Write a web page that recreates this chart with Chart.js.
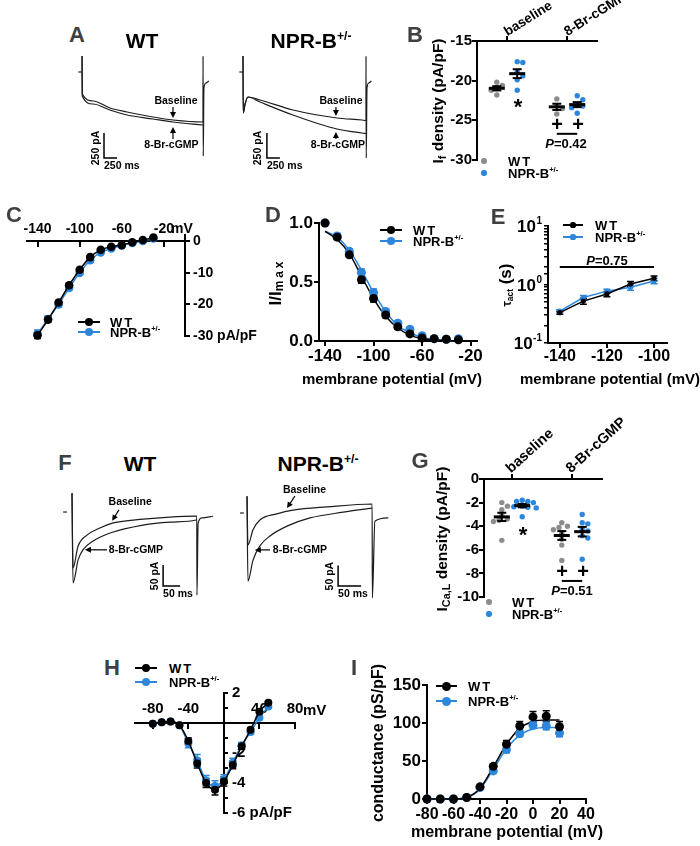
<!DOCTYPE html>
<html>
<head>
<meta charset="utf-8">
<title>NPR-B: If and ICa,L</title>
<script src="https://cdn.jsdelivr.net/npm/chart.js@4.4.1/dist/chart.umd.min.js"></script>
<style>
  body { margin: 0; background: #fff; }
  #fig { position: relative; width: 700px; height: 846px; overflow: hidden; background: #fff;
         font-family: "Liberation Sans", Arial, Helvetica, sans-serif; font-weight: bold; color: #000; }
  #upper { position: absolute; left: 0; top: -27px; width: 700px; height: 846px; }
  #fig canvas { position: absolute; }
  .tx { position: absolute; white-space: nowrap; line-height: 1; z-index: 2; }
  .c { transform: translate(-50%, -50%); }
  .lf { transform: translateY(-50%); }
  .v { transform: translate(-50%, -50%) rotate(-90deg); }
  .letter { font-size: 22px; color: #404040; }
  .title { font-size: 21px; }
  .lg { font-size: 13px; }
  .sp { letter-spacing: 2px; }
  sup { font-size: .58em; vertical-align: super; line-height: 0; }
  sub { font-size: .7em; vertical-align: -.25em; line-height: 0; }
  .sw { position: absolute; z-index: 2; }
</style>
</head>
<body>
<div id="fig"><div id="upper"></div></div>
<script>
// ---------------- data ----------------
// A: If traces, time (ms) / current (pA)
const aWtBaseT  = [0, 5, 212, 538, 865, 1365, 1750, 2327, 2328, 2332, 2345, 2385, 2440];
const aWtBaseI  = [160, -220, -290, -360, -400, -450, -480, -500, 160, -840, -160, -110, -90];
const aWtCgT    = [0, 5, 212, 538, 865, 1365, 1750, 2327];
const aWtCgI    = [160, -240, -320, -380, -430, -470, -500, -530];
const aNprBaseT = [0, 5, 40, 96, 327, 962, 1808, 2288, 2365, 2366, 2370, 2385, 2420, 2470];
const aNprBaseI = [160, -410, -320, -250, -280, -380, -460, -480, -485, 160, -860, -160, -110, -90];
const aNprCgT   = [0, 5, 40, 96, 327, 962, 1808, 2288, 2365];
const aNprCgI   = [160, -410, -320, -250, -300, -430, -570, -610, -615];
const aHoldT = [-70, -5], aHoldI = [0, 0];
const aBarMs = 250, aBarPa = 250;

// F: ICa,L traces, time (ms) / current (pA)
const fWtBaseT  = [0, 3, 18, 44, 82, 121, 209, 288, 365, 367, 367.5, 371, 382, 415];
const fWtBaseI  = [45, -133, -81, -55, -38, -26, -17, -12, -10, -10, -198, -26, -14, -10];
const fWtCgT    = [0, 3, 18, 32, 62, 112, 209, 288, 365, 367];
const fWtCgI    = [45, -169, -114, -90, -69, -50, -31, -24, -19, -18];
const fNprBaseT = [0, 2, 13, 28, 65, 100, 174, 272, 272.5, 278, 307];
const fNprBaseI = [41, -78, -41, -17, -2, 7, 15, 22, -207, -20, -12];
const fNprCgT   = [0, 2, 13, 28, 50, 87, 137, 209, 272];
const fNprCgI   = [41, -166, -115, -80, -56, -32, -12, 2, 12];
const fWtHoldT = [-26, -15], fNprHoldT = [-15, -7], fHoldI = [0, 0];
const fBarMs = 50, fBarPa = 50;

// B: If density (pA/pF)
const groups = ['baseline', '8-Br-cGMP'];
const bWtBase  = [-20.2, -20.6, -21.0, -21.2, -21.8];
const bNprBase = [-17.6, -17.7, -18.9, -19.4, -19.9, -21.2];
const bWtCg    = [-22.3, -23.2, -23.5, -24.2];
const bNprCg   = [-21.9, -22.4, -23.1, -23.2, -23.4, -24.1];
const bTicks = [-30, -25, -20, -15];

// G: ICa,L density (pA/pF)
const gWtBase  = [-2.0, -2.3, -2.6, -3.1, -3.4, -3.5, -3.6, -5.2];
const gNprBase = [-1.8, -1.9, -1.9, -2.0, -2.3, -2.35, -2.4, -2.45, -3.2];
const gWtCg    = [-3.7, -4.0, -4.1, -4.3, -4.6, -5.1, -5.6, -6.9];
const gNprCg   = [-3.0, -3.7, -3.8, -4.2, -4.4, -4.8, -5.0, -6.8];
const gTicks = [-10, -8, -6, -4, -2, 0];

// C: If I-V (pA/pF)
const cVolt = [-140, -130, -120, -110, -100, -90, -80, -70, -60, -50, -40, -30];
const cWT   = [-29.8, -24.8, -19.4, -13.9, -9.0, -5.0, -2.7, -1.7, -1.2, -0.3, 0.4, 1.2];
const cNPR  = [-29.3, -24.6, -20.0, -14.8, -10.0, -6.0, -3.5, -2.3, -1.3, -0.5, 0.1, 0.9];
const cErrWT  = [1.0, 0.8, 0.6, 0.5, 0.4, 0.3, 0.2, 0.2, 0.1, 0.1, 0.1, 0.1];
const cErrNPR = [1.2, 0.9, 0.7, 0.6, 0.5, 0.4, 0.3, 0.2, 0.1, 0.1, 0.1, 0.1];
const cXTicks = [-140, -100, -60, -20], cYTicks = [-30, -20, -10, 0];

// D: If activation, I/Imax
const dVolt = [-140, -130, -120, -110, -100, -90, -80, -70, -60, -50, -40, -30];
const dWT     = [1.0, 0.88, 0.73, 0.52, 0.36, 0.22, 0.12, 0.06, 0.025, 0.02, 0.015, 0.01];
const dNPR    = [1.0, 0.89, 0.76, 0.58, 0.41, 0.25, 0.15, 0.10, 0.045, 0.02, 0.015, 0.02];
const dFitWT  = [0.93, 0.86, 0.74, 0.55, 0.36, 0.21, 0.11, 0.05, 0.02, 0.01, 0.005, 0.0];
const dFitNPR = [0.93, 0.88, 0.77, 0.60, 0.41, 0.25, 0.13, 0.07, 0.03, 0.015, 0.005, 0.0];
const dErr = [0, 0.02, 0.02, 0.03, 0.03, 0.02, 0.02, 0.015, 0.01, 0.01, 0.01, 0.01];
const dXTicks = [-140, -100, -60, -20], dYTicks = [0, 0.5, 1];

// E: tau act (s)
const eVolt = [-140, -130, -120, -110, -100];
const eWT   = [0.33, 0.52, 0.69, 1.02, 1.28];
const eNPR  = [0.35, 0.60, 0.77, 0.90, 1.15];
const eErrWT  = [0.02, 0.06, 0.07, 0.10, 0.12];
const eErrNPR = [0.02, 0.05, 0.06, 0.10, 0.12];
const eXTicks = [-140, -120, -100], eDecades = [0.1, 1, 10], eExps = ['-1', '0', '1'];

// H: ICa,L I-V (pA/pF)
const hVolt = [-80, -70, -60, -50, -40, -30, -20, -10, 0, 10, 20, 30, 40, 50];
const hWT   = [-0.05, 0.05, 0.1, -0.15, -1.2, -2.7, -4.0, -4.45, -3.9, -2.8, -1.55, -0.45, 0.75, 1.35];
const hNPR  = [-0.05, 0.05, 0.1, -0.15, -1.35, -2.5, -3.85, -4.2, -3.75, -2.65, -1.5, -0.6, 0.35, 1.1];
const hErrWT  = [0.05, 0.05, 0.05, 0.1, 0.2, 0.3, 0.3, 0.35, 0.3, 0.25, 0.2, 0.1, 0.1, 0.1];
const hErrNPR = [0.05, 0.05, 0.05, 0.1, 0.3, 0.4, 0.35, 0.35, 0.3, 0.3, 0.2, 0.15, 0.1, 0.1];
const hXTicks = [-80, -40, 40, 80], hYLab = [2, -2, -4, -6];

// I: conductance (pS/pF)
const iVolt = [-80, -70, -60, -50, -40, -30, -20, -10, 0, 10, 20];
const iWT     = [0, 0, 0, 2, 16, 43, 72, 96, 108, 109, 95];
const iNPR    = [0, 0, 0, 2, 15, 37, 65, 86, 97, 96, 87];
const iFitWT  = [0, 0, 0, 2, 14, 42, 72, 93, 102, 104, 104];
const iFitNPR = [0, 0, 0, 2, 13, 39, 66, 84, 92, 94, 94];
const iErrWT  = [0, 0, 0, 1, 2, 3, 5, 6, 7, 7, 7];
const iErrNPR = [0, 0, 0, 1, 2, 3, 4, 4, 4, 5, 5];
const iXTicks = [-80, -60, -40, -20, 0, 20, 40], iYTicks = [0, 50, 100, 150];

// ---------------- setup ----------------
const FONT = '"Liberation Sans", Arial, Helvetica, sans-serif';
const BLUE = '#2b86dc', GRAY = '#8c8c8c', INK = '#000';
const fig = document.getElementById('fig');
let host = document.getElementById('upper');   // panels A-G sit in the upper layer

Chart.defaults.font.family = FONT;
Chart.defaults.font.weight = 'bold';
Chart.defaults.color = INK;
Chart.defaults.plugins.legend.display = false;
Chart.defaults.plugins.tooltip.enabled = false;
Chart.defaults.events = [];

// error bars from dataset.errs
Chart.register({
  id: 'errBars',
  beforeDatasetsDraw(chart) {
    const ctx = chart.ctx;
    chart.data.datasets.forEach((ds, i) => {
      if (!ds.errs) return;
      const meta = chart.getDatasetMeta(i), ys = chart.scales[meta.yAxisID];
      ctx.save();
      ctx.strokeStyle = ds.borderColor;
      ctx.lineWidth = 1.5;
      meta.data.forEach((pt, j) => {
        const e = ds.errs[j];
        if (!e) return;
        const v = ds.data[j].y;
        const a = ys.getPixelForValue(v + e), b = ys.getPixelForValue(v - e);
        ctx.beginPath();
        ctx.moveTo(pt.x, a); ctx.lineTo(pt.x, b);
        ctx.moveTo(pt.x - 3.5, a); ctx.lineTo(pt.x + 3.5, a);
        ctx.moveTo(pt.x - 3.5, b); ctx.lineTo(pt.x + 3.5, b);
        ctx.stroke();
      });
      ctx.restore();
    });
  }
});

// lines, arrows and text in data coordinates
function notesPlugin(items) {
  return {
    id: 'notes',
    afterDatasetsDraw(chart) {
      const ctx = chart.ctx;
      const X = v => chart.scales.x.getPixelForValue(v), Y = v => chart.scales.y.getPixelForValue(v);
      ctx.save();
      ctx.strokeStyle = INK; ctx.fillStyle = INK;
      items.forEach(it => {
        if (it.line) {
          ctx.lineWidth = it.w || 1.5;
          ctx.beginPath();
          it.line.forEach(([a, b], k) => k ? ctx.lineTo(X(a), Y(b)) : ctx.moveTo(X(a), Y(b)));
          ctx.stroke();
        } else if (it.arrow) {
          const [[a1, b1], [a2, b2]] = it.arrow;
          const x1 = X(a1), y1 = Y(b1), x2 = X(a2), y2 = Y(b2);
          const ang = Math.atan2(y2 - y1, x2 - x1), c = Math.cos(ang), s = Math.sin(ang);
          ctx.lineWidth = 1.2;
          ctx.beginPath(); ctx.moveTo(x1, y1); ctx.lineTo(x2 - 4 * c, y2 - 4 * s); ctx.stroke();
          ctx.beginPath(); ctx.moveTo(x2, y2);
          ctx.lineTo(x2 - 6 * c + 3 * s, y2 - 6 * s - 3 * c);
          ctx.lineTo(x2 - 6 * c - 3 * s, y2 - 6 * s + 3 * c);
          ctx.closePath(); ctx.fill();
        } else if (it.text) {
          ctx.font = `bold ${it.size || 10.5}px ${FONT}`;
          ctx.textAlign = it.align || 'center';
          ctx.textBaseline = 'middle';
          ctx.save();
          ctx.translate(X(it.at[0]), Y(it.at[1]));
          if (it.rot) ctx.rotate(it.rot);
          ctx.fillText(it.text, 0, 0);
          ctx.restore();
        }
      });
      ctx.restore();
    }
  };
}

// mean +/- SEM for dot plots
function meanPlugin(groupsList) {
  return {
    id: 'meanSem',
    afterDatasetsDraw(chart) {
      const ctx = chart.ctx, xs = chart.scales.x, ys = chart.scales.y;
      const seg = (a, b, c, d) => { ctx.beginPath(); ctx.moveTo(a, b); ctx.lineTo(c, d); ctx.stroke(); };
      ctx.save(); ctx.strokeStyle = INK;
      groupsList.forEach(g => {
        const n = g.vals.length, m = g.vals.reduce((a, b) => a + b, 0) / n;
        const sd = Math.sqrt(g.vals.reduce((a, b) => a + (b - m) ** 2, 0) / (n - 1));
        const se = sd / Math.sqrt(n);
        const px = xs.getPixelForValue(g.x), pm = ys.getPixelForValue(m);
        const p1 = ys.getPixelForValue(m + se), p2 = ys.getPixelForValue(m - se);
        ctx.lineWidth = 3; seg(px - 8, pm, px + 8, pm);
        ctx.lineWidth = 2; seg(px, p1, px, p2);
        seg(px - 4.5, p1, px + 4.5, p1); seg(px - 4.5, p2, px + 4.5, p2);
      });
      ctx.restore();
    }
  };
}

// tick labels placed beside a crossing axis
function sideLabels(values, labels, size, dx) {
  return {
    id: 'sideLabels',
    afterDraw(chart) {
      const ctx = chart.ctx, ys = chart.scales.y, x0 = chart.scales.x.getPixelForValue(0) + dx;
      ctx.save();
      ctx.font = `bold ${size}px ${FONT}`;
      ctx.fillStyle = INK; ctx.textAlign = 'left'; ctx.textBaseline = 'middle';
      values.forEach((v, i) => ctx.fillText(labels[i], x0, ys.getPixelForValue(v)));
      ctx.restore();
    }
  };
}

// 10^n labels for log axis
function powLabels(values, exps, size, supSize, gap) {
  return {
    id: 'powLabels',
    afterDraw(chart) {
      const ctx = chart.ctx, s = chart.scales.y, right = s.right - gap;
      ctx.save(); ctx.fillStyle = INK; ctx.textBaseline = 'alphabetic';
      values.forEach((v, i) => {
        const y = s.getPixelForValue(v);
        ctx.font = `bold ${supSize}px ${FONT}`;
        const ws = ctx.measureText(exps[i]).width;
        ctx.textAlign = 'left';
        ctx.fillText(exps[i], right - ws, y - 2);
        ctx.font = `bold ${size}px ${FONT}`;
        ctx.textAlign = 'right';
        ctx.fillText('10', right - ws - 0.5, y + size * 0.36);
      });
      ctx.restore();
    }
  };
}

function ax(o) {
  return {
    type: o.type || 'linear',
    position: o.position,
    min: o.min, max: o.max,
    border: { display: true, color: INK, width: 2 },
    grid: { drawOnChartArea: false, drawTicks: true, tickLength: o.tickLen ?? 5, color: INK, lineWidth: o.tickW || 2 },
    ticks: {
      display: o.showLabels !== false,
      color: INK, font: { size: o.size || 15, weight: 'bold' },
      padding: o.pad ?? 1, autoSkip: false, labelOffset: o.lo || 0,
      minRotation: o.rot || 0, maxRotation: o.rot || 0,
      callback: o.fmt || (v => v)
    },
    afterBuildTicks: o.values ? s => { s.ticks = o.values.map(v => ({ value: v })); } : undefined,
    afterFit: s => {
      if (o.w != null) s.width = o.w;
      if (o.h != null) s.height = o.h;
      s.paddingLeft = s.paddingRight = s.paddingTop = s.paddingBottom = 0;
    }
  };
}

function mkChart(box, padding, cfg, plugins) {
  const [x, y, w, h] = box;
  const cv = document.createElement('canvas');
  cv.width = w; cv.height = h;
  cv.style.left = x + 'px'; cv.style.top = y + 'px';
  cv.style.width = w + 'px'; cv.style.height = h + 'px';
  host.appendChild(cv);
  cfg.options = Object.assign({ responsive: false, animation: false, layout: { padding } }, cfg.options);
  cfg.plugins = plugins || [];
  return new Chart(cv, cfg);
}

function ser(xs, ys, color, r, errs, extra) {
  return Object.assign({
    data: xs.map((x, i) => ({ x, y: ys[i] })),
    borderColor: color, backgroundColor: color, borderWidth: 1.5,
    pointRadius: r, pointBorderWidth: 0, pointBackgroundColor: color,
    cubicInterpolationMode: 'monotone', clip: false, errs
  }, extra || {});
}

function trace(T, I) {
  return {
    data: T.map((t, i) => ({ x: t, y: I[i] })),
    borderColor: '#1c1c1c', borderWidth: 1.2, pointRadius: 0,
    cubicInterpolationMode: 'monotone', clip: false
  };
}

// simple beeswarm: pxX / pxY are pixels per data unit, diam the dot size
function swarm(vals, cx, pxX, pxY, diam) {
  const placed = [], out = [];
  vals.map((v, i) => i).sort((a, b) => vals[b] - vals[a]).forEach(i => {
    const y = vals[i] * pxY;
    for (let k = 0; k < 40; k++) {
      const off = (k % 2 ? 1 : -1) * Math.ceil(k / 2) * diam * 0.5;
      if (placed.every(p => (p.x - off) ** 2 + (p.y - y) ** 2 >= diam * diam * 0.9)) {
        placed.push({ x: off, y });
        out[i] = { x: cx + off / pxX, y: vals[i] };
        break;
      }
    }
  });
  return out;
}

function dots(vals, cx, color, pxY) {
  return { data: swarm(vals, cx, 60, pxY, 5.6), pointRadius: 2.7, pointBorderWidth: 0,
           backgroundColor: color, pointBackgroundColor: color, showLine: false, clip: false };
}

function traceChart(box, xr, yr, sets, items) {
  return mkChart(box, 0, {
    type: 'line',
    data: { datasets: sets },
    options: { scales: {
      x: { type: 'linear', display: false, min: xr[0], max: xr[1] },
      y: { display: false, min: yr[0], max: yr[1] } } }
  }, [notesPlugin(items)]);
}

// ---------------- panel A ----------------
const aNotes = (tBar, tArrow, tBase, yBaseTip, tCg, yCgTip) => [
  { text: 'Baseline', at: [tBase, -290] },
  { arrow: [[tArrow, -350], [tArrow, yBaseTip]] },
  { text: '8-Br-cGMP', at: [tCg, -730] },
  { arrow: [[tArrow, -670], [tArrow, yCgTip]] },
  { line: [[tBar, -860 + aBarPa], [tBar, -860], [tBar + aBarMs, -860]] },
  { text: aBarPa + ' pA', at: [tBar - 160, -760], rot: -Math.PI / 2 },
  { text: aBarMs + ' ms', at: [tBar, -945], align: 'left' }
];
traceChart([62, 75, 153, 125], [-385, 2558], [-1010, 240],
  [trace(aWtBaseT, aWtBaseI), trace(aWtCgT, aWtCgI), trace(aHoldT, aHoldI)],
  aNotes(423, 1750, 1808, -460, 1721, -550));
traceChart([225, 75, 155, 125], [-346, 2635], [-1010, 240],
  [trace(aNprBaseT, aNprBaseI), trace(aNprCgT, aNprCgI), trace(aHoldT, aHoldI)],
  aNotes(460, 1788, 1885, -440, 1827, -600));

// ---------------- panel F ----------------
traceChart([55, 505, 165, 125], [-50, 435.3], [-216.6, 81],
  [trace(fWtBaseT, fWtBaseI), trace(fWtCgT, fWtCgI), trace(fWtHoldT, fHoldI)],
  [ { text: 'Baseline', at: [171, 24] },
    { arrow: [[138, 5], [118, -21]] },
    { text: '8-Br-cGMP', at: [188, -90] },
    { arrow: [[103, -90], [38, -90]] },
    { line: [[268, -176 + fBarPa], [268, -176], [268 + fBarMs, -176]] },
    { text: fBarPa + ' pA', at: [244, -152], rot: -Math.PI / 2 },
    { text: fBarMs + ' ms', at: [268, -195], align: 'left' } ]);
traceChart([230, 505, 165, 125], [-37, 321.7], [-219.5, 85.4],
  [trace(fNprBaseT, fNprBaseI), trace(fNprCgT, fNprCgI), trace(fNprHoldT, fHoldI)],
  [ { text: 'Baseline', at: [125, 56] },
    { arrow: [[104, 41], [87, 12]] },
    { text: '8-Br-cGMP', at: [115, -90] },
    { arrow: [[50, -90], [17, -90]] },
    { line: [[198, -178 + fBarPa], [198, -178], [198 + fBarMs, -178]] },
    { text: fBarPa + ' pA', at: [180, -154], rot: -Math.PI / 2 },
    { text: fBarMs + ' ms', at: [198, -197], align: 'left' } ]);

// ---------------- panel B ----------------
mkChart([400, 0, 240, 215], { top: 0, right: 43, bottom: 28, left: 0 }, {
  type: 'scatter',
  data: { datasets: [
    dots(bNprBase, 1.17, BLUE, 7.93), dots(bWtBase, 0.83, GRAY, 7.93),
    dots(bNprCg, 2.17, BLUE, 7.93), dots(bWtCg, 1.83, GRAY, 7.93)] },
  options: { scales: {
    x: ax({ position: 'top', min: 0.5, max: 2.5, values: [1, 2], fmt: v => groups[v - 1], rot: 32, size: 13.5, h: 68, pad: -4, lo: 7 }),
    y: ax({ min: -30, max: -15, values: bTicks, w: 77, pad: 0 }) } }
}, [meanPlugin([{ x: 0.83, vals: bWtBase }, { x: 1.17, vals: bNprBase }, { x: 1.83, vals: bWtCg }, { x: 2.17, vals: bNprCg }]),
    notesPlugin([{ line: [[1.83, -26.7], [2.17, -26.7]], w: 2 }])]);

// ---------------- panel G ----------------
mkChart([400, 430, 240, 220], { top: 0, right: 38, bottom: 26, left: 0 }, {
  type: 'scatter',
  data: { datasets: [
    dots(gNprBase, 1.17, BLUE, 11.8), dots(gWtBase, 0.83, GRAY, 11.8),
    dots(gNprCg, 2.17, BLUE, 11.8), dots(gWtCg, 1.83, GRAY, 11.8)] },
  options: { scales: {
    x: ax({ position: 'top', min: 0.533, max: 2.5, values: [1, 2], fmt: v => groups[v - 1], rot: 42, size: 14.5, h: 76, pad: -3, lo: 8 }),
    y: ax({ min: -10, max: 0, values: gTicks, w: 84, pad: 0 }) } }
}, [meanPlugin([{ x: 0.83, vals: gWtBase }, { x: 1.17, vals: gNprBase }, { x: 1.83, vals: gWtCg }, { x: 2.17, vals: gNprCg }]),
    notesPlugin([{ line: [[1.83, -8.64], [2.17, -8.64]], w: 2 }])]);

// ---------------- panel C ----------------
mkChart([0, 230, 260, 150], { left: 27, top: 32, bottom: 17, right: 0 }, {
  type: 'line',
  data: { datasets: [ser(cVolt, cWT, INK, 4.3, cErrWT), ser(cVolt, cNPR, BLUE, 4.3, cErrNPR)] },
  options: { scales: {
    x: ax({ position: { y: 0 }, min: -150, max: 0, values: cXTicks, size: 14, pad: -26 }),
    y: ax({ position: 'right', min: -30, max: 2, values: cYTicks, w: 75, size: 14, pad: 3,
            fmt: v => v === -30 ? '-30 pA/pF' : v }) } }
});

// ---------------- panel D ----------------
mkChart([240, 225, 250, 190], { top: 25, right: 13.4, left: 0, bottom: 0 }, {
  type: 'line',
  data: { datasets: [
    ser(dVolt, dWT, INK, 4.5, dErr, { showLine: false }),
    ser(dVolt, dNPR, BLUE, 4.5, dErr, { showLine: false }),
    ser(dVolt, dFitWT, INK, 0, null),
    ser(dVolt, dFitNPR, BLUE, 0, null)] },
  options: { scales: {
    x: ax({ min: -145, max: -15, values: dXTicks, size: 17, h: 47, pad: 0 }),
    y: ax({ min: 0, max: 1, values: dYTicks, w: 79, size: 17, pad: 1, fmt: v => v.toFixed(1) }) } }
});

// ---------------- panel E ----------------
mkChart([490, 225, 210, 190], { top: 28, right: 33, left: 0, bottom: 0 }, {
  type: 'line',
  data: { datasets: [
    ser(eVolt, eWT, INK, 2.6, eErrWT, { cubicInterpolationMode: 'default', tension: 0 }),
    ser(eVolt, eNPR, BLUE, 2.6, eErrNPR, { cubicInterpolationMode: 'default', tension: 0 })] },
  options: { scales: {
    x: ax({ min: -145, max: -94.5, values: eXTicks, size: 16, h: 45, pad: -1 }),
    y: ax({ type: 'logarithmic', min: 0.1, max: 10, showLabels: false, w: 58, tickLen: 4, tickW: 1.5 }) } }
}, [powLabels(eDecades, eExps, 17, 10, 6), notesPlugin([{ line: [[-140, 2.0], [-100, 2.0]], w: 2 }])]);

// ---------------- text helpers ----------------
function place(cls, x, y, html, css) {
  const d = document.createElement('div');
  d.className = 'tx ' + cls;
  d.style.left = x + 'px'; d.style.top = y + 'px';
  if (css) d.style.cssText += css;
  d.innerHTML = html;
  host.appendChild(d);
  return d;
}
const NPR = 'NPR-B<sup>+/-</sup>';

function swatch(cx, cy, color, len, r) {
  if (len) {
    const l = document.createElement('div');
    l.className = 'sw';
    l.style.cssText += `left:${cx - len / 2}px;top:${cy - 0.75}px;width:${len}px;height:1.5px;background:${color}`;
    host.appendChild(l);
  }
  const d = document.createElement('div');
  d.className = 'sw';
  d.style.cssText += `left:${cx - r}px;top:${cy - r}px;width:${2 * r}px;height:${2 * r}px;border-radius:50%;background:${color}`;
  host.appendChild(d);
}
function legend(cx, tx, y1, y2, len, r, c1) {
  swatch(cx, y1, c1, len, r); place('lf lg sp', tx, y1, 'WT');
  swatch(cx, y2, BLUE, len, r); place('lf lg', tx, y2, NPR);
}
const star = (x, y) => place('c', x, y + 5, '*', 'font-size:22px');
const plus = (x, y) => place('c', x, y, '+', 'font-size:20px');

// upper layer text (panels A-G)
[['A', 77, 62], ['B', 415, 62], ['C', 14, 242], ['D', 273, 242], ['E', 498, 244],
 ['F', 65, 490], ['G', 420, 488]].forEach(([t, x, y]) => place('c letter', x, y, t));
place('c title', 142, 67, 'WT');
place('c title', 311, 67, NPR);
place('c title', 140, 490, 'WT');
place('c title', 318, 490, NPR);

place('v', 438, 128, 'I<sub>f</sub> density (pA/pF)', 'font-size:15.5px');
place('v', 442, 566, 'I<sub>Ca,L</sub> density (pA/pF)', 'font-size:15.5px');
place('v', 275, 309, 'I/I<sub style="letter-spacing:3px">max</sub>', 'font-size:17px');
place('v', 505, 312, '<span style="font-size:12px">τ<sub>act</sub></span> (s)', 'font-size:17px');
place('c', 392, 405, 'membrane potential (mV)', 'font-size:15px');
place('c', 610, 405, 'membrane potential (mV)', 'font-size:15px');
place('lf', 171, 255, 'mV', 'font-size:14px');

star(518, 129); plus(557, 151); plus(578, 151);
place('c', 566, 170, '<i>P</i>=0.42', 'font-size:13px');
star(523, 557); plus(562, 598); plus(583, 598);
place('c', 572, 617, '<i>P</i>=0.51', 'font-size:13px');
place('c', 607, 287, '<i>P</i>=0.75', 'font-size:13px');

legend(484, 508, 188, 200, 0, 2.7, GRAY);
legend(489, 512, 629, 641, 0, 2.7, GRAY);
legend(89, 110, 349, 359, 22, 4.3, INK);
legend(391, 413, 257, 268, 22, 4.3, INK);
legend(573, 595, 252, 264, 20, 2.6, INK);

// ---------------- lower layer: panels H and I ----------------
host = fig;

mkChart([100, 680, 240, 150], { left: 35, right: 45, top: 13, bottom: 17 }, {
  type: 'line',
  data: { datasets: [ser(hVolt, hWT, INK, 4, hErrWT), ser(hVolt, hNPR, BLUE, 4, hErrNPR)] },
  options: { scales: {
    x: ax({ position: { y: 0 }, min: -100, max: 80, values: hXTicks, size: 15, pad: -28 }),
    y: ax({ position: { x: 0 }, min: -6, max: 2, values: [-6, -5, -4, -3, -2, -1, 0, 1, 2], showLabels: false, tickLen: -5 }) } }
}, [sideLabels(hYLab, hYLab.map(v => v === -6 ? '-6 pA/pF' : String(v)), 15, 8)]);

mkChart([350, 670, 270, 176], { top: 15, right: 34, left: 0, bottom: 0 }, {
  type: 'line',
  data: { datasets: [
    ser(iVolt, iWT, INK, 4.5, iErrWT, { showLine: false }),
    ser(iVolt, iNPR, BLUE, 4.5, iErrNPR, { showLine: false }),
    ser(iVolt, iFitWT, INK, 0, null),
    ser(iVolt, iFitNPR, BLUE, 0, null)] },
  options: { scales: {
    x: ax({ min: -80, max: 40, values: iXTicks, size: 16, h: 47, pad: 1 }),
    y: ax({ min: 0, max: 150, values: iYTicks, w: 77, size: 17, pad: 1 }) } }
});

[['H', 112, 668], ['I', 354, 668]].forEach(([t, x, y]) => place('c letter', x, y, t));
place('v', 378, 743, 'conductance (pS/pF)', 'font-size:16px');
place('c', 507, 832, 'membrane potential (mV)', 'font-size:16px');
place('lf', 303, 709, 'mV', 'font-size:15px');
legend(146, 169, 668, 682, 22, 4.2, INK);
legend(446, 468, 686, 701, 21, 4.5, INK);
</script>
</body>
</html>
